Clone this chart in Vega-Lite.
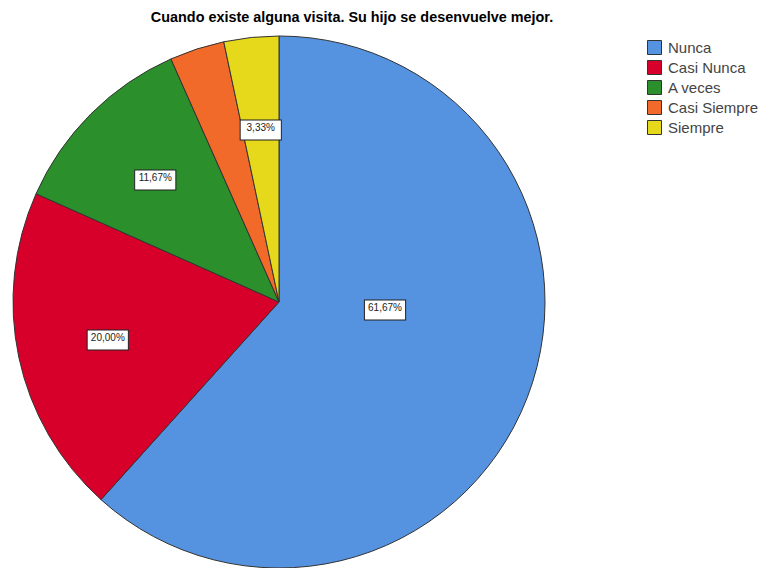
{
  "$schema": "https://vega.github.io/schema/vega-lite/v6.json",
  "width": 558,
  "height": 532,
  "autosize": "none",
  "padding": {"left": 0, "top": 36, "right": 201, "bottom": 0},
  "background": "white",
  "title": {
    "text": "Cuando existe alguna visita. Su hijo se desenvuelve mejor.",
    "font": "Liberation Sans",
    "fontSize": 14.4,
    "fontWeight": "bold",
    "color": "#000000",
    "anchor": "middle",
    "dx": 73,
    "offset": 9
  },
  "data": {
    "values": [
      {"categoria": "Nunca", "porcentaje": 0.6167, "orden": 1},
      {"categoria": "Casi Nunca", "porcentaje": 0.2000, "orden": 2},
      {"categoria": "A veces", "porcentaje": 0.1167, "orden": 3},
      {"categoria": "Casi Siempre", "porcentaje": 0.0333, "orden": 4},
      {"categoria": "Siempre", "porcentaje": 0.0333, "orden": 5}
    ]
  },
  "encoding": {
    "theta": {"field": "porcentaje", "type": "quantitative", "stack": true},
    "order": {"field": "orden", "type": "quantitative"}
  },
  "layer": [
    {
      "mark": {"type": "arc", "outerRadius": 266, "stroke": "#333333", "strokeWidth": 1},
      "encoding": {
        "color": {
          "field": "categoria",
          "type": "nominal",
          "sort": ["Nunca", "Casi Nunca", "A veces", "Casi Siempre", "Siempre"],
          "scale": {
            "domain": ["Nunca", "Casi Nunca", "A veces", "Casi Siempre", "Siempre"],
            "range": ["#5593e0", "#d6002a", "#2b8f2b", "#f26a2a", "#e6d81a"]
          },
          "legend": {
            "title": null,
            "orient": "none",
            "legendX": 647,
            "legendY": 4,
            "symbolType": "square",
            "symbolSize": 196,
            "symbolStrokeColor": "#333333",
            "symbolStrokeWidth": 1,
            "labelFont": "Liberation Sans",
            "labelFontSize": 15,
            "labelColor": "#444444",
            "rowPadding": 1,
            "labelOffset": 6
          }
        }
      }
    },
    {
      "mark": {"type": "text", "radius": 106, "dx": 7, "dy": -32, "font": "DejaVu Sans", "fontSize": 54, "fill": "white", "stroke": "#222222", "strokeWidth": 1, "baseline": "middle", "align": "center"},
      "encoding": {
        "text": {"condition": {"test": "datum.categoria == 'Nunca'", "value": "▬"}, "value": ""}
      }
    },
    {
      "mark": {"type": "text", "radius": 106, "dx": 7, "dy": -32, "font": "Liberation Sans", "fontSize": 10, "color": "#222222", "baseline": "middle", "align": "center"},
      "encoding": {
        "text": {"condition": {"test": "datum.categoria == 'Nunca'", "field": "porcentaje", "type": "quantitative", "format": ".2%"}, "value": ""}
      }
    },
    {
      "mark": {"type": "text", "radius": 175, "font": "DejaVu Sans", "fontSize": 54, "fill": "white", "stroke": "#222222", "strokeWidth": 1, "baseline": "middle", "align": "center"},
      "encoding": {
        "text": {"condition": {"test": "datum.categoria == 'Casi Nunca' || datum.categoria == 'A veces' || datum.categoria == 'Siempre'", "value": "▬"}, "value": ""}
      }
    },
    {
      "mark": {"type": "text", "radius": 175, "font": "Liberation Sans", "fontSize": 10, "color": "#222222", "baseline": "middle", "align": "center"},
      "encoding": {
        "text": {"condition": {"test": "datum.categoria == 'Casi Nunca' || datum.categoria == 'A veces' || datum.categoria == 'Siempre'", "field": "porcentaje", "type": "quantitative", "format": ".2%"}, "value": ""}
      }
    }
  ],
  "config": {
    "view": {"stroke": null},
    "locale": {
      "number": {"decimal": ",", "thousands": ".", "grouping": [3], "currency": ["", " €"]}
    }
  }
}
